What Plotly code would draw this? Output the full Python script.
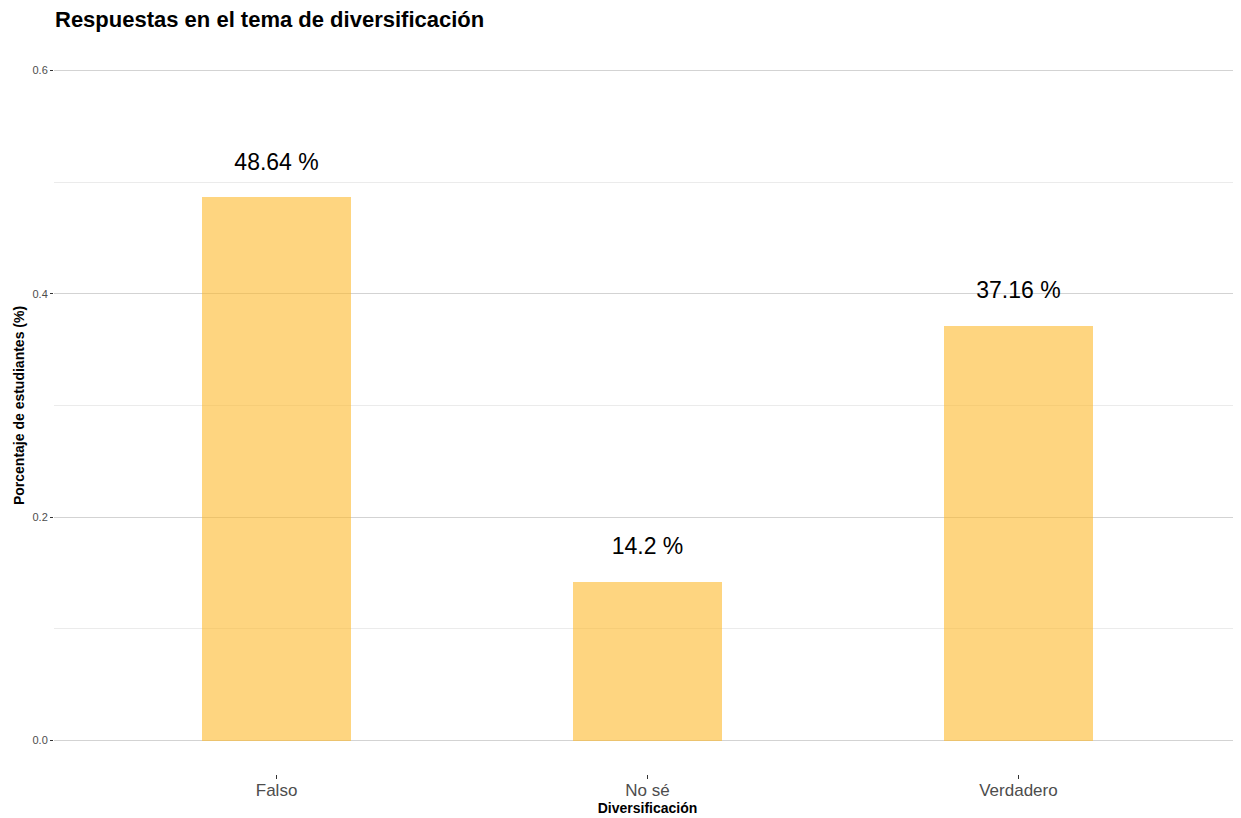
import plotly.graph_objects as go

categories = ["Falso", "No sé", "Verdadero"]
values = [0.4864, 0.142, 0.3716]
labels = ["48.64 %", "14.2 %", "37.16 %"]
label_offset = 0.03

fig = go.Figure()
fig.add_trace(go.Bar(
    x=categories, y=values, width=0.4,
    marker=dict(color="rgba(253,185,43,0.6)", line=dict(width=0)),
    hoverinfo="skip", showlegend=False,
))
fig.add_trace(go.Scatter(
    x=categories, y=[v + label_offset for v in values], text=labels,
    mode="text", textposition="middle center",
    textfont=dict(family="Liberation Sans, Arial, sans-serif", size=23, color="black"),
    showlegend=False, hoverinfo="skip",
))

# page body has an 8px margin; figure size/margins compensate for it
fig.update_layout(
    width=1233, height=810,
    margin=dict(l=46, r=0, t=29, b=44),
    plot_bgcolor="white", paper_bgcolor="white",
    font=dict(family="Liberation Sans, Arial, sans-serif"),
    title=dict(text="<b>Respuestas en el tema de diversificación</b>",
               x=47/1233, xanchor="left", y=1 - 11/810, yanchor="middle",
               font=dict(size=22, color="black")),
    bargap=0,
)
fig.update_xaxes(
    range=[-0.6, 2.6], showgrid=False, zeroline=False, automargin=False,
    ticks="outside", ticklen=4, tickcolor="#333333", tickwidth=1,
    ticklabelstandoff=-3,
    tickfont=dict(size=17, color="#4D4D4D"),
    title=dict(text="<b>Diversificación</b>", font=dict(size=14, color="black"), standoff=0),
)
fig.update_yaxes(
    range=[-0.03, 0.63], tickvals=[0, 0.2, 0.4, 0.6], ticktext=["0.0", "0.2", "0.4", "0.6"],
    showgrid=True, gridcolor="#D3D3D3", gridwidth=1, zeroline=False, automargin=False,
    minor=dict(tickvals=[0.1, 0.3, 0.5], showgrid=True, gridcolor="#EBEBEB", gridwidth=1),
    ticks="outside", ticklen=3, tickcolor="#333333", tickwidth=1,
    tickfont=dict(size=11, color="#4D4D4D"),
    title=dict(text="<b>Porcentaje de estudiantes (%)</b>", font=dict(size=14, color="black"), standoff=4),
)

fig.write_html("out.html")
